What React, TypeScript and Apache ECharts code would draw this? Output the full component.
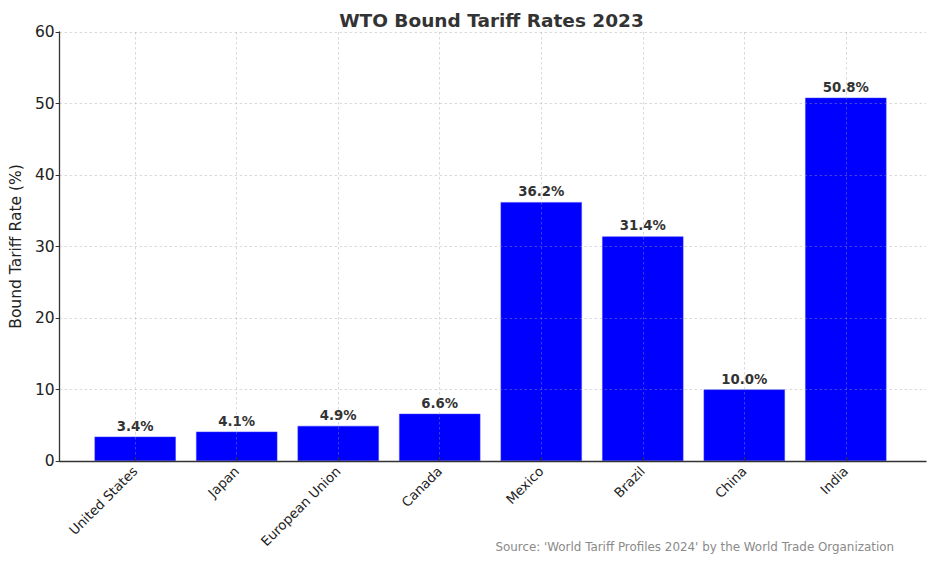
import React, { useEffect, useRef } from "react";
import * as echarts from "echarts";

const categories = ["United States", "Japan", "European Union", "Canada", "Mexico", "Brazil", "China", "India"];
const tariffRates = [3.4, 4.1, 4.9, 6.6, 36.2, 31.4, 10.0, 50.8];
const yTicks = [0, 10, 20, 30, 40, 50, 60];

const FONT = "DejaVu Sans";

export default function App() {
  const ref = useRef<HTMLDivElement>(null);
  useEffect(() => {
    if (!ref.current) return;
    const chart = echarts.init(ref.current, undefined, { renderer: "svg" });
    const plotLeft = 55;
    const plotRight = 926;
    const top = 32;
    const bottom = 102;
    const n = categories.length;
    // matplotlib-like: xlim = [-0.79, n-1+0.79]
    const unit = (plotRight - plotLeft) / (n - 1 + 1.58);
    const firstCenter = plotLeft + 0.79 * unit;
    const lastCenter = firstCenter + (n - 1) * unit;
    const gridline = { show: true, lineStyle: { color: "rgba(160,160,160,0.45)", type: [2.5, 2.5] as any, width: 0.9 } };
    chart.setOption({
      animation: false,
      title: {
        text: "WTO Bound Tariff Rates 2023",
        left: (plotLeft + plotRight) / 2 - 4,
        textAlign: "center",
        top: 6,
        textStyle: { fontFamily: FONT, fontSize: 18.5, fontWeight: "bold", color: "#333333" },
      },
      grid: [
        { left: plotLeft, width: plotRight - plotLeft, top, bottom, containLabel: false },
        { left: firstCenter - unit / 2, width: unit * n, top, bottom, containLabel: false },
        { left: firstCenter, width: lastCenter - firstCenter, top, bottom, containLabel: false },
      ],
      xAxis: [
        {
          gridIndex: 0, type: "value", min: 0, max: 1, z: 8,
          axisLine: { show: true, lineStyle: { color: "#333333", width: 1.3 } },
          axisTick: { show: false }, axisLabel: { show: false }, splitLine: { show: false },
        },
        {
          gridIndex: 1, type: "category", data: categories, z: 8,
          axisLine: { show: false },
          axisTick: { show: true, alignWithLabel: true, inside: true, length: 4, lineStyle: { color: "#333333", width: 1.2 } },
          axisLabel: { rotate: 45, fontFamily: FONT, fontSize: 13.3, color: "#222222", margin: 8, interval: 0 },
          splitLine: { show: false },
        },
        {
          gridIndex: 2, type: "value", min: 0, max: n - 1, interval: 1, z: 5,
          axisLine: { show: false }, axisTick: { show: false }, axisLabel: { show: false },
          splitLine: gridline,
        },
      ],
      yAxis: [
        {
          gridIndex: 0, type: "value", min: 0, max: 60, interval: 10, z: 5,
          name: "Bound Tariff Rate (%)", nameLocation: "middle", nameGap: 32, nameRotate: 90,
          nameTextStyle: { fontFamily: FONT, fontSize: 15.5, color: "#222222" },
          axisLine: { show: true, lineStyle: { color: "#333333", width: 1.3 } },
          axisTick: { show: true, length: 4, lineStyle: { color: "#333333" } },
          axisLabel: { fontFamily: FONT, fontSize: 15.5, color: "#222222", margin: 5,
            formatter: (v: number) => (yTicks.includes(v) ? String(v) : "") },
          splitLine: gridline,
        },
        { gridIndex: 1, type: "value", min: 0, max: 60, show: false, splitLine: { show: false } },
        { gridIndex: 2, type: "value", min: 0, max: 60, show: false, splitLine: { show: false } },
      ],
      series: [
        {
          type: "bar",
          xAxisIndex: 1,
          yAxisIndex: 1,
          data: tariffRates,
          barWidth: unit * 0.8,
          itemStyle: { color: "#0000ff", borderColor: "#3a3aff", borderWidth: 0.5 },
          label: {
            show: true, position: "top", distance: 4,
            formatter: (p: any) => `${Number(p.value).toFixed(1)}%`,
            fontFamily: FONT, fontSize: 13.3, fontWeight: "bold", color: "#333333",
          },
        },
      ],
      graphic: [
        {
          type: "text", right: 936 - 894, top: 541,
          style: { text: "Source: 'World Tariff Profiles 2024' by the World Trade Organization",
            fontFamily: FONT, fontSize: 11.9, fill: "#8a8a8a" },
        },
      ],
    });
    return () => chart.dispose();
  }, []);
  return <div ref={ref} style={{ width: 936, height: 563, position: "absolute", left: 0, top: 0 }} />;
}
